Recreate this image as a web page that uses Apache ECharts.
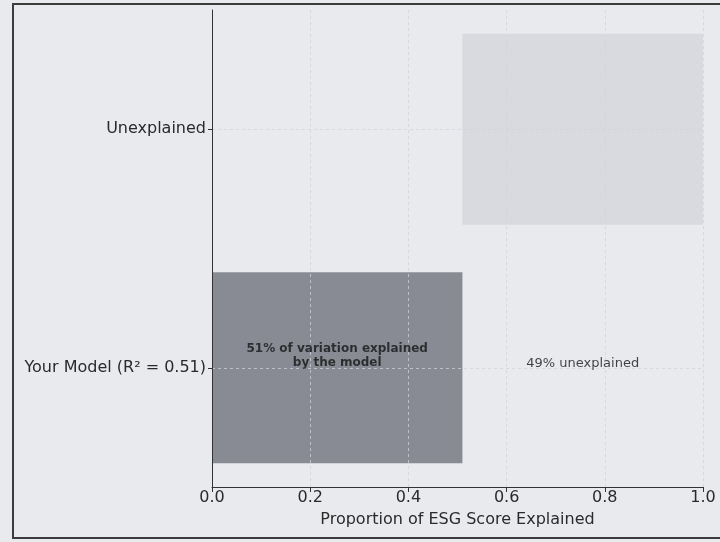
<!DOCTYPE html>
<html>
<head>
<meta charset="utf-8">
<script src="https://cdn.jsdelivr.net/npm/echarts@6/dist/echarts.min.js"></script>
<style>html,body{margin:0;padding:0;background:#e9eaee;}#c{width:720px;height:542px;}</style>
</head>
<body>
<div id="c"></div>
<script>
// Data
var categories = ['Your Model (R\u00b2 = 0.51)', 'Unexplained'];
var barStart = [0, 0.51];
var barLength = [0.51, 0.49];
var barColors = ['#888b93', '#d9dadf'];
var xTicks = [0, 0.2, 0.4, 0.6, 0.8, 1.0];
var annotTexts = ['51% of variation explained\nby the model', '49% unexplained'];
var annotX = [0.255, 0.755];
var annotCat = [categories[0], categories[0]];

var chart = echarts.init(document.getElementById('c'), null, {renderer: 'canvas'});
var font = 'DejaVu Sans';
var gridColor = 'rgba(208,209,216,0.75)';
chart.setOption({
  backgroundColor: '#e9eaee',
  animation: false,
  textStyle: {fontFamily: font},
  grid: {left: 212, right: 17, top: 10, bottom: 55},
  xAxis: {
    type: 'value', min: 0, max: 1, interval: 0.2, z: 5,
    axisLine: {show: true, lineStyle: {color: '#333', width: 1}},
    axisTick: {show: true, length: 5, lineStyle: {color: '#333'}},
    axisLabel: {fontSize: 16, color: '#2a2a2a', margin: 3, fontFamily: font,
      formatter: function (v) { return v.toFixed(1); }},
    splitLine: {show: true, lineStyle: {color: gridColor, type: [3, 3], width: 1}},
    name: 'Proportion of ESG Score Explained', nameLocation: 'middle', nameGap: 25,
    nameTextStyle: {fontSize: 16, color: '#2a2a2a', fontFamily: font}
  },
  yAxis: {
    type: 'category', data: categories, z: 5,
    axisLine: {show: true, lineStyle: {color: '#333', width: 1}},
    axisTick: {show: true, length: 4, alignWithLabel: true, lineStyle: {color: '#333'}},
    axisLabel: {fontSize: 16, color: '#2a2a2a', margin: 6, fontFamily: font},
    splitLine: {show: false}
  },
  series: [
    {
      type: 'bar', stack: 's', data: barStart, barWidth: '80%',
      itemStyle: {color: 'transparent'}, silent: true
    },
    {
      type: 'bar', stack: 's', barWidth: '80%',
      data: barLength.map(function (v, i) { return {value: v, itemStyle: {color: barColors[i]}}; }),
      markLine: {
        silent: true, symbol: 'none', z: 4, label: {show: false},
        lineStyle: {color: gridColor, type: [3, 3], width: 1},
        data: categories.map(function (c) { return {yAxis: c}; })
      }
    },
    {
      type: 'scatter', symbolSize: 0, z: 10,
      data: annotX.map(function (x, i) {
        return {
          value: [x, annotCat[i]],
          label: {
            show: true, position: 'inside', formatter: annotTexts[i],
            fontSize: i === 0 ? 12 : 13, fontWeight: i === 0 ? 'bold' : 'normal',
            color: '#151515', lineHeight: 14, align: 'center',
            offset: i === 0 ? [0, -12] : [0, -4], fontFamily: font
          }
        };
      })
    }
  ],
  graphic: [{
    type: 'rect', z: 100, silent: true,
    shape: {x: 13, y: 4, width: 720, height: 534},
    style: {fill: 'none', stroke: '#3c3c3c', lineWidth: 2}
  }]
});
</script>
</body>
</html>
